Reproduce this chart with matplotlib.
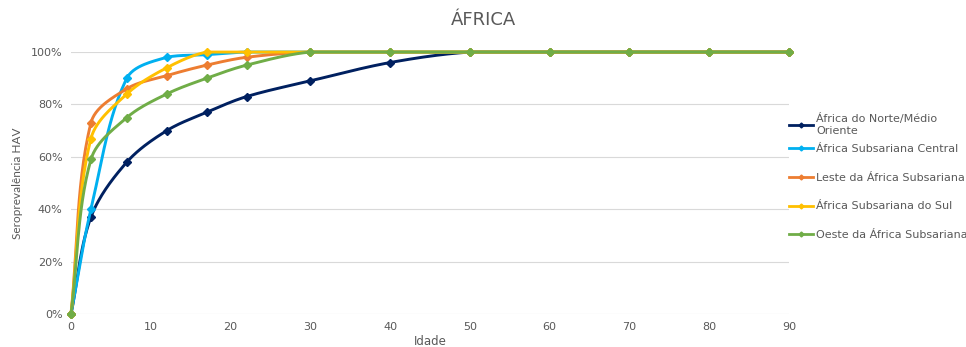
import matplotlib
matplotlib.use("Agg")
import matplotlib.pyplot as plt
import numpy as np
from matplotlib.ticker import PercentFormatter

# ---------- data ----------
idade = [0, 2.5, 7, 12, 17, 22, 30, 40, 50, 60, 70, 80, 90]

norte_medio_oriente = [0, 37, 58, 70, 77, 83, 89, 96, 100, 100, 100, 100, 100]
subsariana_central = [0, 40, 90, 98, 99, 100, 100, 100, 100, 100, 100, 100, 100]
leste_subsariana = [0, 73, 86, 91, 95, 98, 100, 100, 100, 100, 100, 100, 100]
subsariana_sul = [0, 67, 84, 94, 100, 100, 100, 100, 100, 100, 100, 100, 100]
oeste_subsariana = [0, 59, 75, 84, 90, 95, 100, 100, 100, 100, 100, 100, 100]

series = [
    ("África do Norte/Médio\nOriente", norte_medio_oriente, "#002060"),
    ("África Subsariana Central", subsariana_central, "#00B0F0"),
    ("Leste da África Subsariana", leste_subsariana, "#ED7D31"),
    ("África Subsariana do Sul", subsariana_sul, "#FFC000"),
    ("Oeste da África Subsariana", oeste_subsariana, "#70AD47"),
]

GREY = "#595959"


def smooth_line(ax, x, y, steps=30):
    """Bezier 'smoothed line' in screen space, control points kept inside each segment's y-range."""
    pts = ax.transData.transform(np.column_stack([x, y]))
    n = len(pts)
    seglen = np.hypot(*np.diff(pts, axis=0).T)
    out = [pts[0]]
    for i in range(n - 1):
        p1, p2 = pts[i], pts[i + 1]
        p0 = pts[max(i - 1, 0)]
        d_prev = seglen[i - 1] if i > 0 else 0.0
        d_cur = seglen[i]
        c1 = p1 + (p2 - p0) * d_cur / (d_prev + d_cur) / 3.0
        p3 = pts[min(i + 2, n - 1)]
        d_next = seglen[i + 1] if i + 1 < n - 1 else 0.0
        c2 = p2 - (p3 - p1) * d_cur / (d_cur + d_next) / 3.0
        # no overshoot
        lo, hi = min(p1[1], p2[1]), max(p1[1], p2[1])
        c1[1] = np.clip(c1[1], lo, hi)
        c2[1] = np.clip(c2[1], lo, hi)
        t = np.linspace(0, 1, steps)[1:, None]
        seg = ((1 - t) ** 3) * p1 + 3 * ((1 - t) ** 2) * t * c1 + 3 * (1 - t) * t ** 2 * c2 + t ** 3 * p2
        out.extend(seg)
    out = np.array(out)
    back = ax.transData.inverted().transform(out)
    return back[:, 0], back[:, 1]


fig = plt.figure(figsize=(9.66, 3.47), dpi=100)
ax = fig.add_axes([0.0735, 0.095, 0.7433, 0.755])

ax.set_xlim(0, 90)
ax.set_ylim(0, 100)
ax.set_xticks(range(0, 91, 10))
ax.set_yticks(range(0, 101, 20))
ax.yaxis.set_major_formatter(PercentFormatter(100, decimals=0))
ax.grid(axis="y", color="#D9D9D9", linewidth=0.8)
ax.set_axisbelow(True)
for s in ax.spines.values():
    s.set_visible(False)
ax.tick_params(length=0, labelsize=8, labelcolor=GREY, pad=6)

for label, vals, col in series:
    xs, ys = smooth_line(ax, idade, vals)
    ax.plot(xs, ys, color=col, linewidth=2.1, solid_capstyle="round", clip_on=False)
    ax.plot(idade, vals, linestyle="none", marker="D", markersize=4.5,
            color=col, clip_on=False)
    # legend proxy
    ax.plot([], [], color=col, linewidth=2, marker="D", markersize=2.5, label=label)

fig.text(0.5, 0.942, "ÁFRICA", fontsize=13, color=GREY, ha="center", va="center")
ax.set_xlabel("Idade", fontsize=8.5, color=GREY, labelpad=2)
ax.set_ylabel("Seroprevalência HAV", fontsize=8.5, color=GREY, family="Lato", labelpad=6)

handles, labels = ax.get_legend_handles_labels()
leg_kw = dict(frameon=False, fontsize=8, labelcolor=GREY, handlelength=2.2,
              handletextpad=0.25, borderaxespad=0)
# two-line first entry sits closer to the rest
fig.legend(handles[:1], labels[:1], loc="center left",
           bbox_to_anchor=(0.812, 1 - 124.5 / 347), **leg_kw)
fig.legend(handles[1:], labels[1:], loc="center left",
           bbox_to_anchor=(0.812, 1 - 192 / 347), labelspacing=1.7, **leg_kw)

fig.savefig("out.png", dpi=100)
